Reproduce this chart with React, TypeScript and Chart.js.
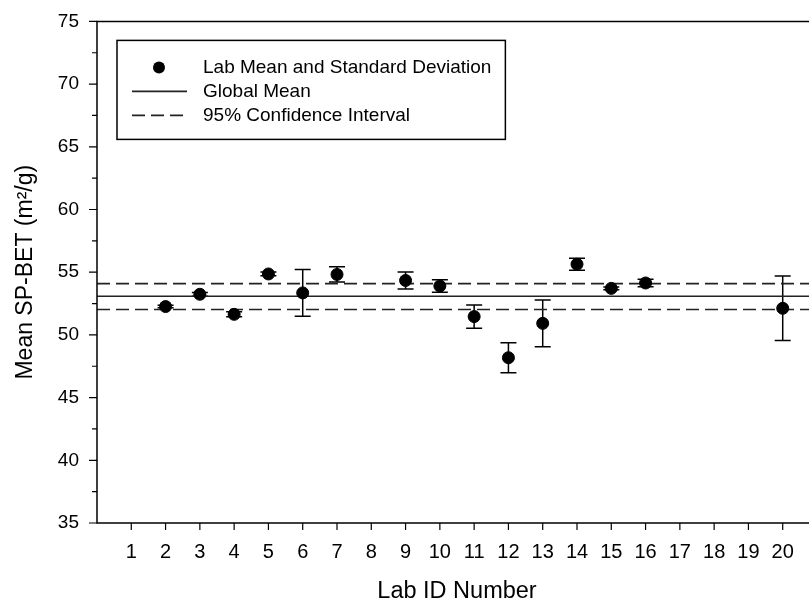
import React, { useEffect, useRef } from "react";
import { Chart, registerables } from "chart.js";

Chart.register(...registerables);

// ---- data ----
const labIds = [2, 3, 4, 5, 6, 7, 9, 10, 11, 12, 13, 14, 15, 16, 20];
const labMeans = [52.26, 53.24, 51.64, 54.86, 53.35, 54.82, 54.34, 53.9, 51.46, 48.18, 50.92, 55.64, 53.71, 54.14, 52.12];
const labSDs = [0.1, 0.15, 0.2, 0.15, 1.87, 0.61, 0.68, 0.49, 0.93, 1.2, 1.87, 0.48, 0.1, 0.3, 2.57];
const globalMean = 53.08;
const ciLower = 52.02;
const ciUpper = 54.09;
const xTickLabels = ["1", "2", "3", "4", "5", "6", "7", "8", "9", "10", "11", "12", "13", "14", "15", "16", "17", "18", "19", "20"];
const yMin = 35;
const yMax = 75;
const yMajorStep = 5;
const yMinorStep = 2.5;
const xMin = 0;
const xMax = 21;
const legendLabels = ["Lab Mean and Standard Deviation", "Global Mean", "95% Confidence Interval"];
const xTitle = "Lab ID Number";
const yTitle = "Mean SP-BET (m\u00B2/g)";

const FONT = "'Liberation Sans', Arial, Helvetica, sans-serif";
const INK = "#000000";
const LINE_INK = "#222222";
const DASH = [13, 6];

const errorBarPlugin = {
  id: "errorBars",
  beforeDatasetsDraw(chart: any) {
    const ctx = chart.ctx;
    const xs = chart.scales.x;
    const ys = chart.scales.y;
    ctx.save();
    ctx.strokeStyle = INK;
    ctx.lineWidth = 1.5;
    labIds.forEach((id, i) => {
      const x = xs.getPixelForValue(id);
      const yt = ys.getPixelForValue(labMeans[i] + labSDs[i]);
      const yb = ys.getPixelForValue(labMeans[i] - labSDs[i]);
      ctx.beginPath();
      ctx.moveTo(x, yt);
      ctx.lineTo(x, yb);
      ctx.moveTo(x - 8, yt);
      ctx.lineTo(x + 8, yt);
      ctx.moveTo(x - 8, yb);
      ctx.lineTo(x + 8, yb);
      ctx.stroke();
    });
    ctx.restore();
  },
};

const framePlugin = {
  id: "frameTicks",
  afterDraw(chart: any) {
    const ctx = chart.ctx;
    const { left, right, top, bottom } = chart.chartArea;
    const xs = chart.scales.x;
    const ys = chart.scales.y;
    ctx.save();
    ctx.strokeStyle = INK;
    ctx.lineWidth = 1.5;
    ctx.beginPath();
    ctx.rect(left, top, right - left, bottom - top);
    ctx.stroke();
    ctx.lineWidth = 1.2;
    ctx.beginPath();
    for (let v = yMin; v <= yMax + 1e-9; v += yMinorStep) {
      const y = ys.getPixelForValue(v);
      const major = Math.abs(v / yMajorStep - Math.round(v / yMajorStep)) < 1e-6;
      const len = major ? 8 : 5;
      ctx.moveTo(left - len, y);
      ctx.lineTo(left, y);
      ctx.moveTo(right, y);
      ctx.lineTo(right - len, y);
    }
    xTickLabels.forEach((lab) => {
      const x = xs.getPixelForValue(Number(lab));
      ctx.moveTo(x, bottom);
      ctx.lineTo(x, bottom + 7);
    });
    ctx.stroke();
    ctx.restore();
  },
};

const legendPlugin = {
  id: "boxLegend",
  afterDraw(chart: any) {
    const ctx = chart.ctx;
    const { left, top } = chart.chartArea;
    const bx = left + 20;
    const by = top + 19;
    const rows = [by + 27, by + 51, by + 75];
    ctx.save();
    ctx.font = `19px ${FONT}`;
    const textX = bx + 86;
    let maxW = 0;
    legendLabels.forEach((t) => {
      maxW = Math.max(maxW, ctx.measureText(t).width);
    });
    const bw = textX - bx + maxW + 14;
    const bh = 99;
    ctx.fillStyle = "#ffffff";
    ctx.fillRect(bx, by, bw, bh);
    ctx.strokeStyle = INK;
    ctx.lineWidth = 1.5;
    ctx.strokeRect(bx, by, bw, bh);
    // symbol 1: point
    ctx.fillStyle = INK;
    ctx.beginPath();
    ctx.arc(bx + 42, rows[0], 6, 0, Math.PI * 2);
    ctx.fill();
    // symbol 2: solid line
    ctx.strokeStyle = LINE_INK;
    ctx.lineWidth = 1.6;
    ctx.beginPath();
    ctx.moveTo(bx + 15, rows[1]);
    ctx.lineTo(bx + 70, rows[1]);
    ctx.stroke();
    // symbol 3: dashed line
    ctx.setLineDash(DASH);
    ctx.beginPath();
    ctx.moveTo(bx + 15, rows[2]);
    ctx.lineTo(bx + 70, rows[2]);
    ctx.stroke();
    ctx.setLineDash([]);
    ctx.fillStyle = INK;
    ctx.textBaseline = "middle";
    ctx.textAlign = "left";
    legendLabels.forEach((t, i) => ctx.fillText(t, textX, rows[i]));
    ctx.restore();
  },
};

export default function App() {
  const ref = useRef<HTMLCanvasElement | null>(null);
  useEffect(() => {
    if (!ref.current) return;
    const hline = (v: number) => [
      { x: xMin, y: v },
      { x: xMax, y: v },
    ];
    const chart = new Chart(ref.current, {
      type: "scatter",
      data: {
        datasets: [
          {
            label: legendLabels[0],
            data: labIds.map((id, i) => ({ x: id, y: labMeans[i] })),
            backgroundColor: INK,
            borderColor: INK,
            pointRadius: 6,
            pointHoverRadius: 6,
            showLine: false,
            order: 0,
          },
          {
            label: legendLabels[1],
            data: hline(globalMean),
            showLine: true,
            borderColor: LINE_INK,
            borderWidth: 1.6,
            pointRadius: 0,
            order: 1,
          },
          {
            label: legendLabels[2],
            data: hline(ciUpper),
            showLine: true,
            borderColor: LINE_INK,
            borderWidth: 1.6,
            borderDash: DASH,
            pointRadius: 0,
            order: 2,
          },
          {
            label: "ci-low",
            data: hline(ciLower),
            showLine: true,
            borderColor: LINE_INK,
            borderWidth: 1.6,
            borderDash: DASH,
            pointRadius: 0,
            order: 3,
          },
        ],
      },
      options: {
        responsive: false,
        animation: false,
        events: [],
        layout: { padding: { top: 20, right: 13, left: 0, bottom: 0 } },
        plugins: {
          legend: { display: false },
          tooltip: { enabled: false },
        },
        scales: {
          x: {
            type: "linear",
            min: xMin,
            max: xMax,
            grid: { display: false, drawTicks: true, tickLength: 7 },
            border: { display: false },
            ticks: {
              stepSize: 1,
              autoSkip: false,
              maxRotation: 0,
              color: INK,
              padding: 10,
              font: { family: FONT, size: 20 },
              callback: (v: any) => (xTickLabels.includes(String(v)) ? String(v) : ""),
            },
            title: {
              display: true,
              text: xTitle,
              color: INK,
              font: { family: FONT, size: 23.5, lineHeight: 1 },
              padding: { top: 0, bottom: 0 },
            },
            afterFit: (s: any) => {
              s.height = 80;
            },
          },
          y: {
            type: "linear",
            min: yMin,
            max: yMax,
            grid: { display: false, drawTicks: true, tickLength: 8 },
            border: { display: false },
            ticks: {
              stepSize: yMajorStep,
              color: INK,
              padding: 10,
              font: { family: FONT, size: 19 },
            },
            title: {
              display: true,
              text: yTitle,
              color: INK,
              font: { family: FONT, size: 23, lineHeight: 1 },
              padding: { top: 14, bottom: 0 },
            },
            afterFit: (s: any) => {
              s.width = 97;
            },
          },
        },
      },
      plugins: [errorBarPlugin, framePlugin, legendPlugin],
    } as any);
    return () => chart.destroy();
  }, []);
  return (
    <div
      style={{
        position: "fixed",
        left: 0,
        top: 0,
        width: 809,
        height: 603,
        overflow: "hidden",
        background: "#ffffff",
      }}
    >
      <canvas ref={ref} width={830} height={603} style={{ width: 830, height: 603, display: "block" }} />
    </div>
  );
}
